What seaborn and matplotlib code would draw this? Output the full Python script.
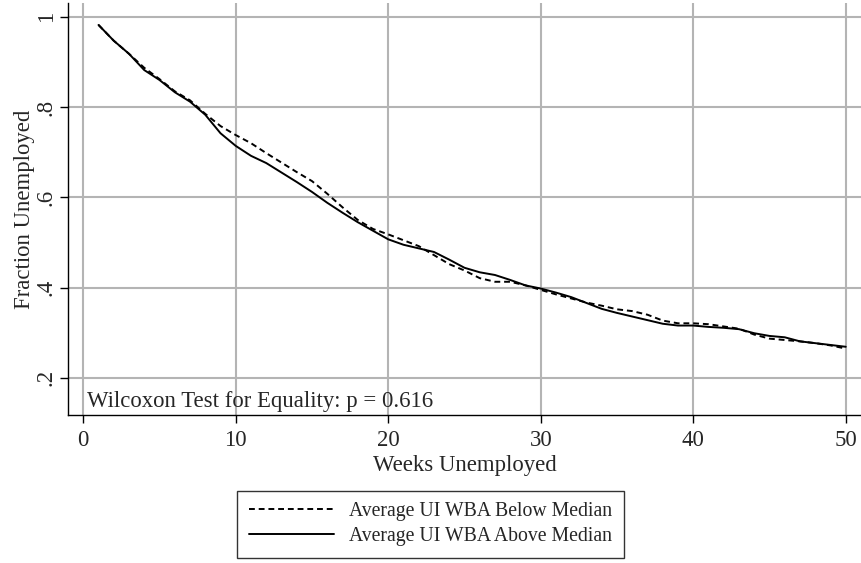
import matplotlib
matplotlib.use("Agg")
import matplotlib.pyplot as plt
import numpy as np
import pandas as pd
import seaborn as sns

weeks = list(range(1, 51))

below_median = [
    0.982, 0.947, 0.918, 0.887, 0.862, 0.835, 0.815, 0.785, 0.758, 0.738,
    0.720, 0.698, 0.677, 0.656, 0.636, 0.608, 0.578, 0.550, 0.530, 0.518,
    0.505, 0.492, 0.472, 0.452, 0.438, 0.421, 0.413, 0.413, 0.405, 0.395,
    0.385, 0.376, 0.367, 0.360, 0.352, 0.348, 0.340, 0.327, 0.321, 0.321,
    0.319, 0.314, 0.309, 0.296, 0.287, 0.284, 0.281, 0.277, 0.272, 0.265,
]
above_median = [
    0.982, 0.947, 0.918, 0.882, 0.860, 0.833, 0.812, 0.783, 0.742, 0.714,
    0.692, 0.676, 0.655, 0.634, 0.612, 0.588, 0.566, 0.545, 0.526, 0.507,
    0.495, 0.487, 0.479, 0.462, 0.444, 0.434, 0.428, 0.417, 0.405, 0.398,
    0.389, 0.379, 0.366, 0.353, 0.344, 0.336, 0.328, 0.320, 0.316, 0.316,
    0.313, 0.311, 0.308, 0.299, 0.293, 0.290, 0.281, 0.277, 0.273, 0.269,
]
series_names = ["Average UI WBA Below Median", "Average UI WBA Above Median"]
x_ticks = [0, 10, 20, 30, 40, 50]
y_ticks = [0.2, 0.4, 0.6, 0.8, 1.0]
y_tick_labels = [".2", ".4", ".6", ".8", "1"]

df = pd.DataFrame({
    "week": weeks * 2,
    "frac": below_median + above_median,
    "group": [series_names[0]] * len(weeks) + [series_names[1]] * len(weeks),
})

sns.set_style("white")
plt.rcParams["font.family"] = ["Liberation Serif", "DejaVu Serif"]
fs = 16.4
leg_fs = 14.2

fig = plt.figure(figsize=(8.61, 5.63), dpi=100)
ax = fig.add_axes([0.079, 0.263, 0.921, 0.732])

sns.lineplot(
    data=df, x="week", y="frac", hue="group", style="group",
    palette=["black", "black"], dashes=[(3, 2), ""],
    linewidth=1.4, ax=ax, legend=False,
)

ax.set_xlim(-1, 51)
ax.set_ylim(0.118, 1.031)
ax.set_xticks(x_ticks)
ax.set_yticks(y_ticks)
ax.set_yticklabels(y_tick_labels, rotation=90, va="center")
ax.grid(True, color="#b4b4b4", linewidth=1.5)
ax.set_axisbelow(True)
for side in ["top", "right"]:
    ax.spines[side].set_visible(False)
for side in ["left", "bottom"]:
    ax.spines[side].set_color("black")
    ax.spines[side].set_linewidth(1.0)
ax.tick_params(axis="both", direction="out", length=6, width=1,
               color="black", labelsize=fs, left=True, bottom=True)
ax.tick_params(axis="x", pad=5)
ax.tick_params(axis="y", pad=2)
ax.set_xlabel("Weeks Unemployed", fontsize=fs, labelpad=3)
ax.set_ylabel("Fraction Unemployed", fontsize=fs, labelpad=1)

ax.text(0.25, 0.148, "Wilcoxon Test for Equality: p = 0.616", fontsize=fs,
        ha="left", va="center")

handles = [
    plt.Line2D([], [], color="black", linewidth=1.4, dashes=(3, 2)),
    plt.Line2D([], [], color="black", linewidth=1.4),
]
leg = fig.legend(handles, series_names, loc="center", bbox_to_anchor=(0.5, 0.069),
                 fontsize=leg_fs, frameon=True, fancybox=False, handlelength=4.3,
                 handletextpad=0.75, borderpad=0.6, labelspacing=0.28,
                 borderaxespad=0)
leg.get_frame().set_edgecolor("black")
leg.get_frame().set_linewidth(1.0)

fig.savefig("out.png", dpi=100)
